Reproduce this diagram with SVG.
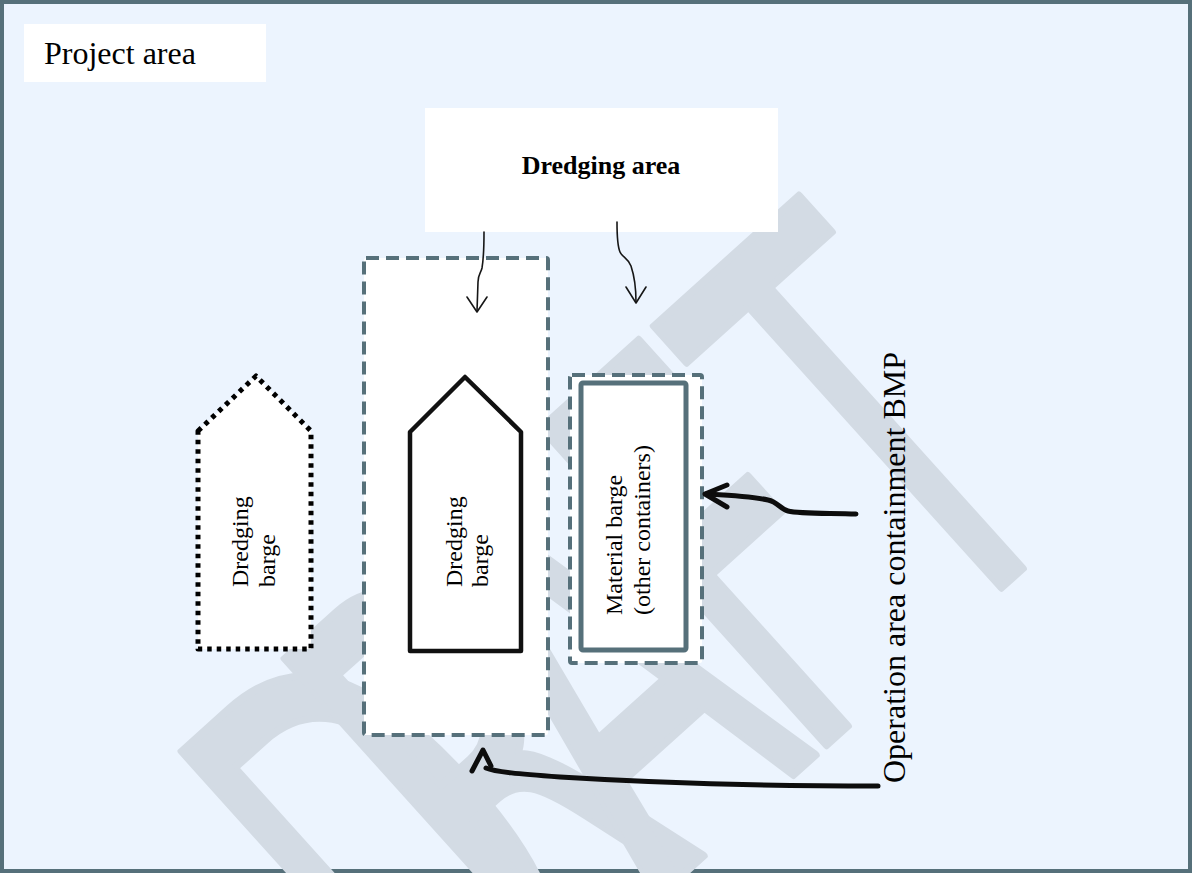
<svg xmlns="http://www.w3.org/2000/svg" width="1192" height="873" viewBox="0 0 1192 873">
<defs>
<style>
.serif{font-family:"Liberation Serif","Times New Roman",serif;fill:#000}
.dash{fill:#fff;stroke:#56707a;stroke-width:4;stroke-dasharray:13 7;stroke-linejoin:round}
.thin{fill:none;stroke:#161616;stroke-width:1.6;stroke-linecap:round;stroke-linejoin:round}
.thick{fill:none;stroke:#0d0d0d;stroke-width:5;stroke-linecap:round;stroke-linejoin:round}
.wm{font-family:"DejaVu Sans",sans-serif;fill:#d3dbe4;stroke:#d3dbe4;stroke-width:8;stroke-linejoin:round}
</style>
</defs>
<rect id="background" x="2" y="2" width="1188" height="869" fill="#ecf4fe" stroke="#56707a" stroke-width="4"/>
<g id="watermark">
<text class="wm" transform="translate(1023,568) rotate(-42) scale(0.55,1)" font-size="585" text-anchor="middle"><tspan x="-1195" y="0">D</tspan><tspan x="-965" y="0">R</tspan><tspan x="-700" y="0">A</tspan><tspan x="-373" y="0">F</tspan><tspan x="-27" y="0">T</tspan></text>
</g>
<g id="project-area">
<rect x="24" y="24" width="242" height="58" fill="#fff"/>
<text class="serif" x="44" y="64" font-size="32">Project area</text>
</g>
<g id="dredging-area">
<rect x="425" y="108" width="353" height="124" fill="#fff"/>
<text class="serif" x="601" y="174" font-size="26" font-weight="bold" text-anchor="middle">Dredging area</text>
</g>
<g id="dredging-area-bmp">
<rect class="dash" x="364" y="258" width="184" height="477" rx="2"/>
</g>
<g id="dredging-barge-1">
<polygon points="198,431 256,376 311,431 311,649 198,649" fill="#fff" stroke="#000" stroke-width="5" stroke-dasharray="4.5 5" stroke-linejoin="round"/>
<text class="serif" font-size="24" transform="translate(248,587) rotate(-90)">Dredging</text>
<text class="serif" font-size="24" transform="translate(275,587) rotate(-90)">barge</text>
</g>
<g id="dredging-barge-2">
<polygon points="410,432 465,377 521,432 521,651 410,651" fill="#fff" stroke="#111" stroke-width="4.5" stroke-linejoin="round"/>
<text class="serif" font-size="24" transform="translate(462,587) rotate(-90)">Dredging</text>
<text class="serif" font-size="24" transform="translate(488,587) rotate(-90)">barge</text>
</g>
<g id="material-barge">
<rect class="dash" x="570" y="375" width="132" height="288" rx="2"/>
<rect x="581" y="383" width="105" height="267" rx="2" fill="#fff" stroke="#56707a" stroke-width="5"/>
<text class="serif" font-size="24" transform="translate(622,615) rotate(-90)">Material barge</text>
<text class="serif" font-size="24" transform="translate(650,615) rotate(-90)">(other containers)</text>
</g>
<g id="operation-bmp-label">
<text class="serif" font-size="32" transform="translate(905,783) rotate(-90)">Operation area containment BMP</text>
</g>
<g id="connectors">
<path class="thin" d="M484,232 C484,250 483,262 482,268 C481,273 478,274 478,282 L477,311"/>
<path class="thin" d="M467,297 L477,312 L487,297"/>
<path class="thin" d="M617,222 C617,232 617,245 620,252 C622,257 628,258 631,266 C635,278 636,290 636,302"/>
<path class="thin" d="M626,287 L636,303 L646,287"/>
<path class="thick" d="M856,514 C830,513 800,514 788,511 C780,509 778,502 768,500 C750,496 725,495 706,494"/>
<path class="thick" d="M727,485 L705,494 L727,507"/>
<path class="thick" d="M878,786 C760,786 640,782 560,777 C520,774 495,772 486,768"/>
<path class="thick" d="M472,771 L483,750 L491,766" fill="#0d0d0d"/>
</g>
</svg>
